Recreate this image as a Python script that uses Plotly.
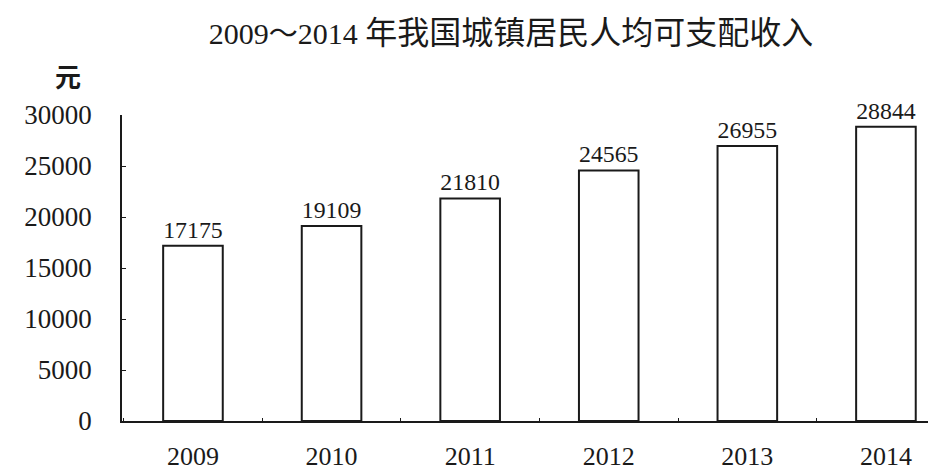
import plotly.graph_objects as go

years = ["2009", "2010", "2011", "2012", "2013", "2014"]
income = [17175, 19109, 21810, 24565, 26955, 28844]
y_ticks = [0, 5000, 10000, 15000, 20000, 25000, 30000]
y_tick_text = ["0", "5000", "10000", "15000", "20000", "25000", "30000"]

FONT = "Liberation Serif, Times New Roman, Noto Sans CJK SC, serif"
CJK = "Noto Sans CJK SC"
INK = "#1a1a1a"

title_html = ("<span style='font-family:Liberation Serif;font-size:30px'>2009</span>"
              "<span style='font-size:29px'>～</span>"
              "<span style='font-family:Liberation Serif;font-size:30px'>2014 </span>"
              "年我国城镇居民人均可支配收入")

fig = go.Figure(go.Bar(
    x=years, y=income,
    width=0.43,
    marker=dict(color="white", line=dict(color=INK, width=2)),
    text=[str(v) for v in income],
    textposition="outside",
    textfont=dict(family=FONT, size=28, color=INK),
    cliponaxis=False,
))

# page has an 8px body margin, so the figure is 8px smaller than the window
fig.update_layout(
    width=928, height=463,
    margin=dict(l=114, r=1, t=107, b=50, autoexpand=False),
    paper_bgcolor="white", plot_bgcolor="white",
    showlegend=False,
    title=dict(text=title_html,
               x=0.542, xanchor="center", y=0.946, yanchor="middle",
               font=dict(family=CJK, size=32, color=INK)),
    annotations=[dict(text="元", xref="paper", yref="paper", x=-0.066, y=1.13,
                      xanchor="center", yanchor="middle", showarrow=False,
                      font=dict(family=CJK, size=26, color=INK, weight="bold"))],
)
fig.update_xaxes(
    type="category", range=[-0.512, 5.354], automargin=False,
    showline=True, linecolor=INK, linewidth=2,
    showgrid=False, ticks="inside", tickson="boundaries", ticklen=3,
    tickcolor=INK, ticklabelstandoff=11,
    tickfont=dict(family=FONT, size=26, color=INK),
)
fig.update_yaxes(
    range=[0, 30000], tickvals=y_ticks, ticktext=y_tick_text, automargin=False,
    showline=True, linecolor=INK, linewidth=1.5,
    showgrid=False, zeroline=False,
    ticks="inside", ticklen=4, tickcolor=INK,
    ticklabelstandoff=23,
    tickfont=dict(family=FONT, size=27, color=INK),
)

fig.write_html("out.html")
